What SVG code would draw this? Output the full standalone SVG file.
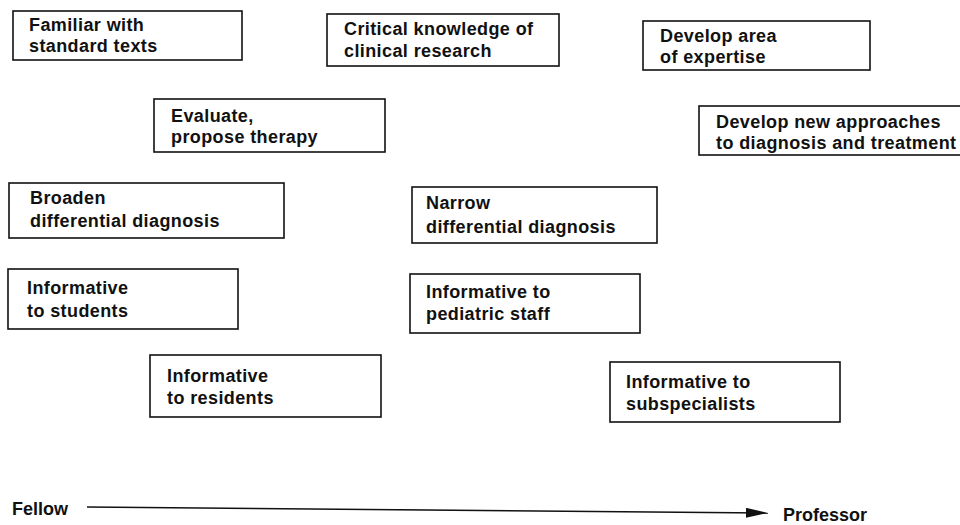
<svg xmlns="http://www.w3.org/2000/svg" width="960" height="525" viewBox="0 0 960 525">
<style>
  .box { fill: #fff; stroke: #111; stroke-width: 1.6; }
  .t { font-family: "Liberation Sans", Arial, sans-serif; font-weight: bold; font-size: 18px; fill: #111; letter-spacing: 0.4px; }
  .ax { font-family: "Liberation Sans", Arial, sans-serif; font-weight: bold; font-size: 18px; fill: #111; }
</style>
<defs>
  <marker id="arr" viewBox="0 0 10 10" refX="10" refY="5" markerWidth="22" markerHeight="10" markerUnits="userSpaceOnUse" orient="auto" preserveAspectRatio="none">
    <path d="M0,0 L10,5 L0,10 Z" fill="#111"/>
  </marker>
</defs>
<rect width="960" height="525" fill="#fff"/>

<g id="familiar">
  <rect class="box" x="13" y="11" width="229" height="49"/>
  <text class="t" x="29" y="31">Familiar with</text>
  <text class="t" x="29" y="52">standard texts</text>
</g>
<g id="critical">
  <rect class="box" x="327" y="14" width="232" height="52"/>
  <text class="t" x="344" y="35">Critical knowledge of</text>
  <text class="t" x="344" y="57">clinical research</text>
</g>
<g id="expertise">
  <rect class="box" x="643" y="21" width="227" height="49"/>
  <text class="t" x="660" y="42">Develop area</text>
  <text class="t" x="660" y="63">of expertise</text>
</g>
<g id="evaluate">
  <rect class="box" x="154" y="99" width="231" height="53"/>
  <text class="t" x="171" y="122">Evaluate,</text>
  <text class="t" x="171" y="143">propose therapy</text>
</g>
<g id="newapproaches">
  <rect class="box" x="699" y="106" width="270" height="49"/>
  <text class="t" x="716" y="128">Develop new approaches</text>
  <text class="t" x="716" y="149">to diagnosis and treatment</text>
</g>
<g id="broaden">
  <rect class="box" x="9" y="183" width="275" height="55"/>
  <text class="t" x="30" y="204">Broaden</text>
  <text class="t" x="30" y="227">differential diagnosis</text>
</g>
<g id="narrow">
  <rect class="box" x="412" y="187" width="245" height="56"/>
  <text class="t" x="426" y="209">Narrow</text>
  <text class="t" x="426" y="233">differential diagnosis</text>
</g>
<g id="students">
  <rect class="box" x="8" y="269" width="230" height="60"/>
  <text class="t" x="27" y="294">Informative</text>
  <text class="t" x="27" y="317">to students</text>
</g>
<g id="pediatric">
  <rect class="box" x="410" y="274" width="230" height="59"/>
  <text class="t" x="426" y="298">Informative to</text>
  <text class="t" x="426" y="320">pediatric staff</text>
</g>
<g id="residents">
  <rect class="box" x="150" y="355" width="231" height="62"/>
  <text class="t" x="167" y="382">Informative</text>
  <text class="t" x="167" y="404">to residents</text>
</g>
<g id="subspecialists">
  <rect class="box" x="610" y="362" width="230" height="60"/>
  <text class="t" x="626" y="388">Informative to</text>
  <text class="t" x="626" y="410">subspecialists</text>
</g>

<g id="connectors">
  <line x1="87" y1="507" x2="768" y2="513" stroke="#111" stroke-width="1.6" marker-end="url(#arr)"/>
</g>
<g id="axis-labels">
  <text class="ax" x="12" y="515">Fellow</text>
  <text class="ax" x="783" y="521">Professor</text>
</g>
</svg>
